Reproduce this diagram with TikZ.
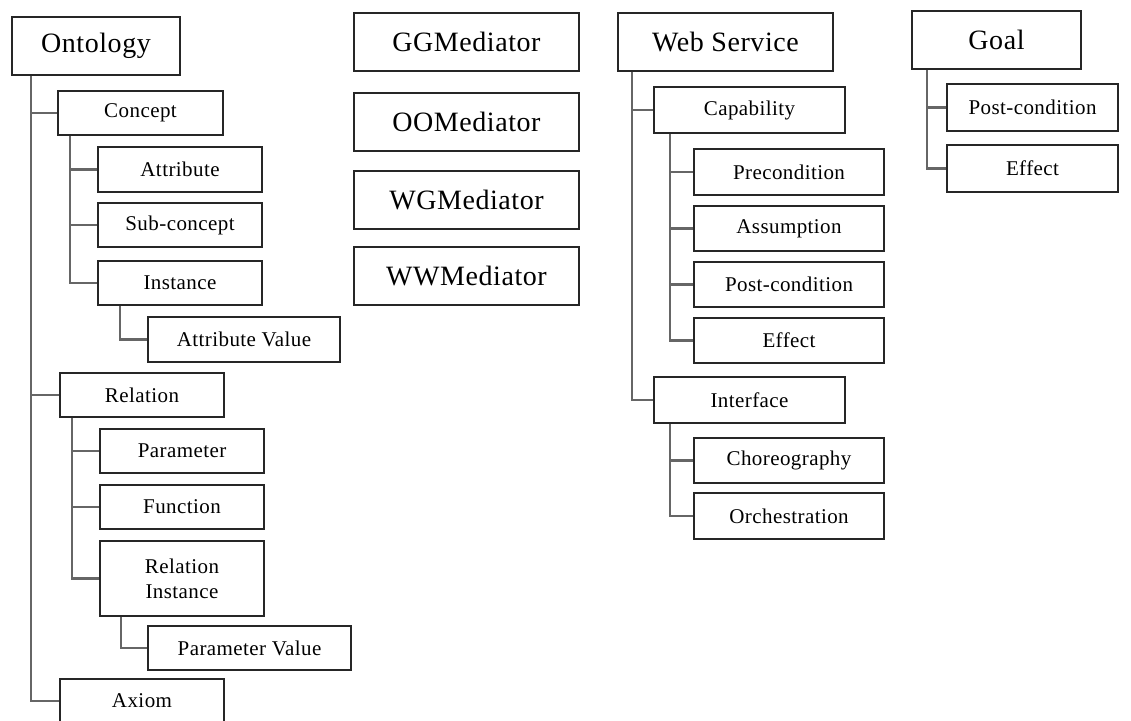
\documentclass[tikz,border=0pt]{standalone}
\usepackage{fontspec}
\setmainfont[LetterSpace=2]{Liberation Serif}
\tikzset{
  box/.style={draw=black!85, line width=1.6pt, fill=white, inner sep=0pt, align=center, font=\fontsize{21}{25}\selectfont},
  topbox/.style={box, font=\fontsize{28}{30}\selectfont},
  conn/.style={draw=black!60, line width=2.4pt},
}
\begin{document}
\begin{tikzpicture}[x=1pt,y=-1pt]
\useasboundingbox[fill=white] (0,0) rectangle (1131,720);
% Ontology
\node[topbox, minimum width=168, minimum height=58] (onto) at (96,46) {Ontology};
\node[box, minimum width=165, minimum height=44] (concept) at (140.5,113) {Concept};
\node[box, minimum width=164, minimum height=45] (attr) at (180,169.5) {Attribute};
\node[box, minimum width=164, minimum height=44] (subc) at (180,225) {Sub-concept};
\node[box, minimum width=164, minimum height=44] (inst) at (180,283) {Instance};
\node[box, minimum width=192, minimum height=45] (attrval) at (244,339.5) {Attribute Value};
\node[box, minimum width=164, minimum height=44] (rel) at (142,395) {Relation};
\node[box, minimum width=164, minimum height=44] (param) at (182,451) {Parameter};
\node[box, minimum width=164, minimum height=44] (func) at (182,507) {Function};
\node[box, minimum width=164, minimum height=75] (relinst) at (182,578.5) {Relation\\Instance};
\node[box, minimum width=203, minimum height=44] (paramval) at (249.5,648) {Parameter Value};
\node[box, minimum width=164, minimum height=44] (axiom) at (142,701) {Axiom};
% Mediators
\node[topbox, minimum width=225, minimum height=58] (gg) at (466.5,42) {GGMediator};
\node[topbox, minimum width=225, minimum height=58] (oo) at (466.5,122) {OOMediator};
\node[topbox, minimum width=225, minimum height=58] (wg) at (466.5,200) {WGMediator};
\node[topbox, minimum width=225, minimum height=58] (ww) at (466.5,276) {WWMediator};
% Web Service
\node[topbox, minimum width=215, minimum height=58] (ws) at (725.5,42) {Web Service};
\node[box, minimum width=191, minimum height=46] (cap) at (749.5,110) {Capability};
\node[box, minimum width=190, minimum height=46] (pre) at (789,172) {Precondition};
\node[box, minimum width=190, minimum height=45] (assum) at (789,228.5) {Assumption};
\node[box, minimum width=190, minimum height=45] (post) at (789,284.5) {Post-condition};
\node[box, minimum width=190, minimum height=45] (eff) at (789,340.5) {Effect};
\node[box, minimum width=191, minimum height=46] (intf) at (749.5,400) {Interface};
\node[box, minimum width=190, minimum height=45] (chor) at (789,460.5) {Choreography};
\node[box, minimum width=190, minimum height=46] (orch) at (789,516) {Orchestration};
% Goal
\node[topbox, minimum width=169, minimum height=58] (goal) at (996.5,40) {Goal};
\node[box, minimum width=171, minimum height=47] (gpost) at (1032.5,107.5) {Post-condition};
\node[box, minimum width=171, minimum height=47] (geff) at (1032.5,168.5) {Effect};
% Connectors
\foreach \c in {concept,rel,axiom} \draw[conn] ([xshift=20]onto.south west) |- (\c.west);
\foreach \c in {attr,subc,inst} \draw[conn] ([xshift=13]concept.south west) |- (\c.west);
\draw[conn] ([xshift=23]inst.south west) |- (attrval.west);
\foreach \c in {param,func,relinst} \draw[conn] ([xshift=13]rel.south west) |- (\c.west);
\draw[conn] ([xshift=22]relinst.south west) |- (paramval.west);
\foreach \c in {cap,intf} \draw[conn] ([xshift=15]ws.south west) |- (\c.west);
\foreach \c in {pre,assum,post,eff} \draw[conn] ([xshift=17]cap.south west) |- (\c.west);
\foreach \c in {chor,orch} \draw[conn] ([xshift=17]intf.south west) |- (\c.west);
\foreach \c in {gpost,geff} \draw[conn] ([xshift=16]goal.south west) |- (\c.west);
\end{tikzpicture}
\end{document}
